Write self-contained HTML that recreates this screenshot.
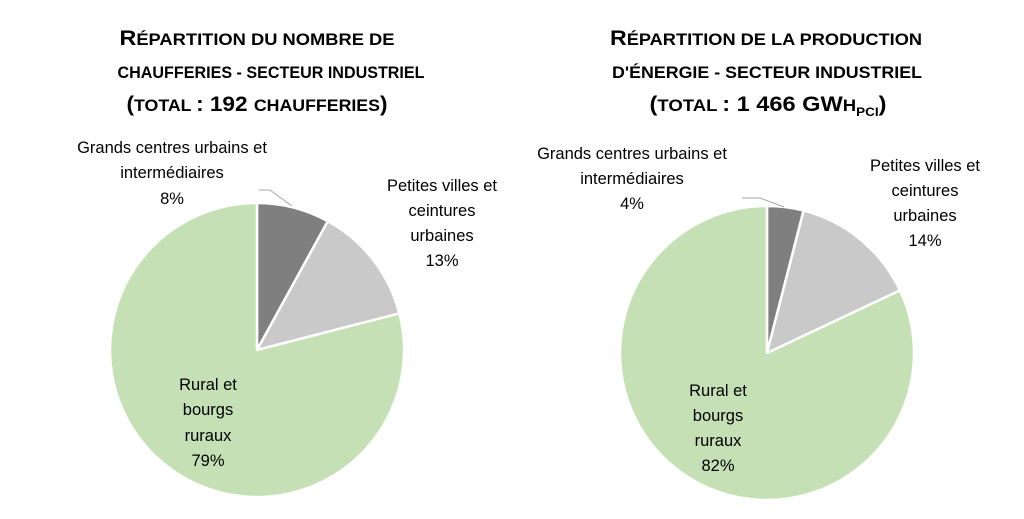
<!DOCTYPE html>
<html><head><meta charset="utf-8"><style>body{margin:0;background:#fff}</style></head><body>
<svg width="1024" height="514" xmlns="http://www.w3.org/2000/svg" font-family="Liberation Sans, sans-serif">
<g font-weight="bold" font-size="16.5" fill="#000" text-anchor="middle">
<text x="257" y="45" textLength="275" lengthAdjust="spacingAndGlyphs"><tspan font-size="21">R</tspan>ÉPARTITION DU NOMBRE DE</text>
<text x="271" y="78" textLength="307" lengthAdjust="spacingAndGlyphs">CHAUFFERIES - SECTEUR INDUSTRIEL</text>
<text x="257" y="111" textLength="261" lengthAdjust="spacingAndGlyphs"><tspan font-size="21">(</tspan>TOTAL <tspan font-size="21">: 192 </tspan>CHAUFFERIES<tspan font-size="21">)</tspan></text>
<text x="766" y="45" textLength="312" lengthAdjust="spacingAndGlyphs"><tspan font-size="21">R</tspan>ÉPARTITION DE LA PRODUCTION</text>
<text x="767" y="78" textLength="310" lengthAdjust="spacingAndGlyphs">D'ÉNERGIE - SECTEUR INDUSTRIEL</text>
<text x="768" y="111" textLength="237" lengthAdjust="spacingAndGlyphs"><tspan font-size="21">(</tspan>TOTAL <tspan font-size="21">: 1 466 GW</tspan>H<tspan font-size="12" dy="5">PCI</tspan><tspan font-size="21" dy="-5">)</tspan></text>
</g>
<g stroke="#fff" stroke-width="2.5" stroke-linejoin="round">
<path d="M257,350 L257,203 A147,147 0 0 1 327.8,221.2 Z" fill="#7f7f7f"/>
<path d="M257,350 L327.8,221.2 A147,147 0 0 1 399.4,313.4 Z" fill="#c9c9c9"/>
<path d="M257,350 L399.4,313.4 A147,147 0 1 1 257,203 Z" fill="#c5e0b4"/>
<path d="M767,353 L767,206 A147,147 0 0 1 803.6,210.6 Z" fill="#7f7f7f"/>
<path d="M767,353 L803.6,210.6 A147,147 0 0 1 900,290.4 Z" fill="#c9c9c9"/>
<path d="M767,353 L900,290.4 A147,147 0 1 1 767,206 Z" fill="#c5e0b4"/>
</g>
<g stroke="#a6a6a6" stroke-width="1" fill="none">
<polyline points="259,190 270,190 292,206"/>
<polyline points="742,198 760,198 784,207"/>
</g>
<g font-size="16.5" fill="#000" text-anchor="middle">
<text x="172" y="153">Grands centres urbains et</text>
<text x="172" y="178">intermédiaires</text>
<text x="172" y="204">8%</text>
<text x="442" y="191">Petites villes et</text>
<text x="442" y="216">ceintures</text>
<text x="442" y="241">urbaines</text>
<text x="442" y="266">13%</text>
<text x="208" y="390">Rural et</text>
<text x="208" y="415">bourgs</text>
<text x="208" y="441">ruraux</text>
<text x="208" y="466">79%</text>
<text x="632" y="159">Grands centres urbains et</text>
<text x="632" y="184">intermédiaires</text>
<text x="632" y="209">4%</text>
<text x="925" y="171">Petites villes et</text>
<text x="925" y="196">ceintures</text>
<text x="925" y="221">urbaines</text>
<text x="925" y="246">14%</text>
<text x="718" y="396">Rural et</text>
<text x="718" y="421">bourgs</text>
<text x="718" y="446">ruraux</text>
<text x="718" y="471">82%</text>
</g>
</svg>
</body></html>
